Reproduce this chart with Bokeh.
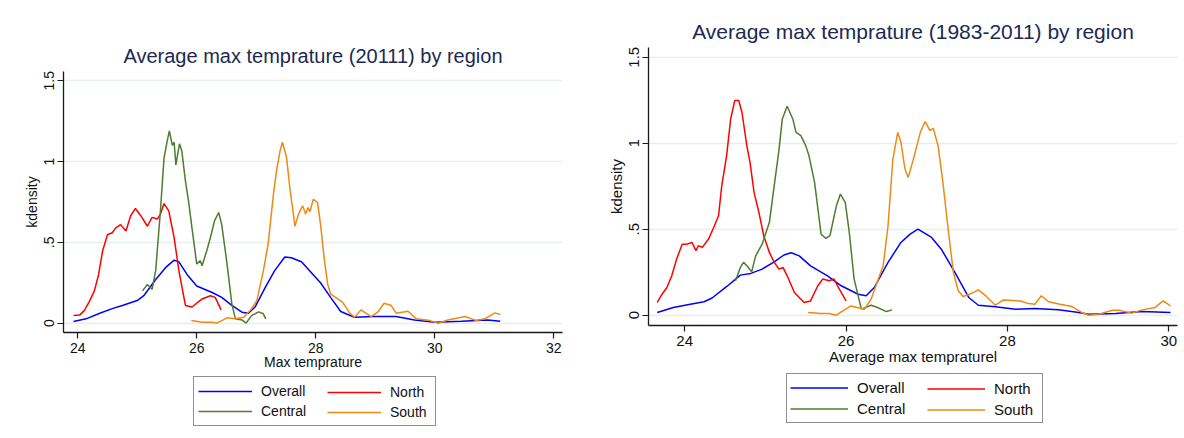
from bokeh.plotting import figure
from bokeh.models import Range1d, FixedTicker, CustomJSTickFormatter, Legend, LegendItem, Spacer
from bokeh.layouts import row, column
from bokeh.embed import file_html
from bokeh.resources import INLINE

# ---------------- data: left panel (2011) ----------------
left_title = "Average max temprature (20111) by region"
left_xlabel = "Max temprature"
left_xticks = [24, 26, 28, 30, 32]

l_overall_x = [23.93, 24.14, 24.36, 24.58, 24.75, 25.0, 25.11, 25.31, 25.48, 25.62, 25.70, 25.84, 26.0, 26.26,
               26.42, 26.59, 26.76, 26.87, 26.98, 27.15, 27.31, 27.48, 27.59, 27.76, 27.92, 28.08, 28.25, 28.42,
               28.65, 28.98, 29.35, 29.66, 30.0, 30.45, 30.89, 31.1]
l_overall_y = [0.01, 0.027, 0.06, 0.09, 0.11, 0.14, 0.17, 0.27, 0.345, 0.39, 0.38, 0.30, 0.23, 0.19,
               0.16, 0.11, 0.068, 0.062, 0.10, 0.22, 0.325, 0.41, 0.405, 0.38, 0.315, 0.25, 0.16, 0.072,
               0.037, 0.041, 0.041, 0.02, 0.006, 0.012, 0.02, 0.012]

l_north_x = [23.93, 24.03, 24.11, 24.19, 24.28, 24.35, 24.42, 24.50, 24.58, 24.64, 24.72, 24.81, 24.89, 24.97,
             25.06, 25.17, 25.25, 25.34, 25.39, 25.45, 25.53, 25.62, 25.70, 25.81, 25.92, 26.09, 26.23, 26.31, 26.41]
l_north_y = [0.047, 0.05, 0.078, 0.13, 0.20, 0.30, 0.45, 0.547, 0.56, 0.59, 0.61, 0.57, 0.665, 0.71,
             0.665, 0.60, 0.655, 0.645, 0.675, 0.74, 0.695, 0.53, 0.325, 0.11, 0.10, 0.15, 0.17, 0.16, 0.082]

l_central_x = [25.09, 25.17, 25.25, 25.31, 25.39, 25.45, 25.50, 25.54, 25.59, 25.62, 25.65, 25.71, 25.75, 25.81,
               25.87, 25.92, 26.0, 26.06, 26.09, 26.17, 26.23, 26.30, 26.37, 26.42, 26.51, 26.59, 26.65, 26.76,
               26.83, 26.92, 27.04, 27.12, 27.16]
l_central_y = [0.20, 0.24, 0.21, 0.325, 0.695, 1.02, 1.12, 1.19, 1.10, 1.12, 0.98, 1.11, 1.065, 0.88,
               0.735, 0.59, 0.366, 0.387, 0.355, 0.45, 0.53, 0.635, 0.685, 0.61, 0.366, 0.12, 0.027, 0.02,
               0.0, 0.047, 0.07, 0.058, 0.027]

l_south_x = [25.91, 26.09, 26.26, 26.34, 26.51, 26.65, 26.79, 26.92, 27.01, 27.12, 27.20, 27.29, 27.34, 27.40,
             27.44, 27.51, 27.57, 27.61, 27.65, 27.71, 27.78, 27.83, 27.87, 27.90, 27.96, 28.03, 28.08, 28.14,
             28.20, 28.25, 28.37, 28.45, 28.56, 28.65, 28.76, 28.93, 29.04, 29.15, 29.27, 29.35, 29.55, 29.69,
             29.92, 30.06, 30.22, 30.51, 30.70, 30.84, 31.01, 31.1]
l_south_y = [0.016, 0.006, 0.006, 0.0, 0.033, 0.027, 0.037, 0.088, 0.14, 0.325, 0.49, 0.80, 0.94, 1.066,
             1.12, 1.025, 0.82, 0.716, 0.60, 0.675, 0.726, 0.675, 0.716, 0.69, 0.767, 0.747, 0.613, 0.407,
             0.243, 0.18, 0.15, 0.13, 0.068, 0.037, 0.082, 0.041, 0.068, 0.123, 0.109, 0.062, 0.074, 0.027,
             0.016, 0.0, 0.02, 0.041, 0.016, 0.027, 0.064, 0.054]

# ---------------- data: right panel (1983-2011) ----------------
right_title = "Average max temprature (1983-2011) by region"
right_xlabel = "Average max tempraturel"
right_xticks = [24, 26, 28, 30]

r_overall_x = [23.66, 23.86, 24.07, 24.24, 24.34, 24.53, 24.69, 24.82, 24.96, 25.11, 25.23, 25.32, 25.42, 25.56,
               25.77, 25.94, 26.15, 26.25, 26.35, 26.52, 26.68, 26.79, 26.89, 27.06, 27.18, 27.35, 27.52, 27.64,
               27.85, 28.10, 28.34, 28.63, 28.84, 29.01, 29.34, 29.67, 30.02]
r_overall_y = [0.016, 0.045, 0.064, 0.078, 0.10, 0.17, 0.233, 0.243, 0.268, 0.31, 0.35, 0.363, 0.345, 0.287,
               0.229, 0.171, 0.122, 0.113, 0.161, 0.307, 0.423, 0.47, 0.50, 0.452, 0.384, 0.248, 0.103, 0.058,
               0.049, 0.035, 0.039, 0.031, 0.019, 0.006, 0.01, 0.021, 0.016]

r_north_x = [23.66, 23.72, 23.78, 23.84, 23.90, 23.97, 24.03, 24.09, 24.14, 24.17, 24.22, 24.30, 24.36, 24.42,
             24.46, 24.52, 24.57, 24.62, 24.67, 24.71, 24.77, 24.81, 24.86, 24.92, 24.98, 25.05, 25.11, 25.17,
             25.22, 25.27, 25.36, 25.48, 25.56, 25.65, 25.71, 25.79, 25.85, 25.94, 26.0]
r_north_y = [0.074, 0.122, 0.161, 0.229, 0.326, 0.413, 0.413, 0.423, 0.375, 0.404, 0.394, 0.446, 0.51, 0.578,
             0.753, 0.928, 1.14, 1.248, 1.248, 1.18, 0.986, 0.889, 0.714, 0.598, 0.462, 0.365, 0.307, 0.268,
             0.277, 0.229, 0.132, 0.074, 0.083, 0.171, 0.21, 0.20, 0.21, 0.132, 0.083]

r_central_x = [24.63, 24.69, 24.73, 24.78, 24.83, 24.88, 24.96, 25.05, 25.11, 25.17, 25.21, 25.27, 25.34, 25.38,
               25.44, 25.50, 25.54, 25.61, 25.69, 25.75, 25.80, 25.88, 25.93, 25.99, 26.04, 26.10, 26.19, 26.31,
               26.39, 26.50, 26.57]
r_central_y = [0.20, 0.278, 0.307, 0.283, 0.252, 0.345, 0.413, 0.54, 0.753, 0.966, 1.141, 1.215, 1.141, 1.063,
               1.044, 0.986, 0.928, 0.772, 0.472, 0.446, 0.462, 0.636, 0.704, 0.656, 0.481, 0.21, 0.035, 0.058,
               0.045, 0.021, 0.031]

r_south_x = [25.53, 25.69, 25.79, 25.88, 25.96, 26.06, 26.19, 26.23, 26.31, 26.40, 26.46, 26.52, 26.58, 26.64,
             26.68, 26.73, 26.77, 26.83, 26.92, 26.98, 27.04, 27.08, 27.14, 27.20, 27.27, 27.33, 27.39, 27.45,
             27.56, 27.64, 27.74, 27.85, 27.95, 28.16, 28.24, 28.34, 28.42, 28.51, 28.65, 28.80, 28.92, 29.01,
             29.13, 29.30, 29.38, 29.54, 29.67, 29.83, 29.93, 30.02]
r_south_y = [0.016, 0.01, 0.01, 0.0, 0.025, 0.054, 0.039, 0.035, 0.093, 0.21, 0.287, 0.52, 0.908, 1.063,
             1.005, 0.85, 0.80, 0.90, 1.063, 1.126, 1.073, 1.087, 0.986, 0.772, 0.481, 0.248, 0.142, 0.109,
             0.128, 0.147, 0.109, 0.058, 0.089, 0.083, 0.07, 0.064, 0.113, 0.078, 0.064, 0.05, 0.016, 0.0,
             0.006, 0.029, 0.029, 0.012, 0.031, 0.045, 0.083, 0.054]

y_ticks = [0, 0.5, 1, 1.5]
series_names = ["Overall", "North", "Central", "South"]
series_colors = ["#0000ff", "#ff0000", "#4e7c30", "#ee8a12"]

# legend-key stand-in lines (outside the legend panel's visible range, only their style is used)
key_x = [2, 3]
key_y = [2, 2]

FONT = "Liberation Sans"
TITLE_COLOR = "#1c2a52"
LINE_W = 1.5


def make_panel(width, height, xr, yr, borders, title, xlabel, xticks, series, fs, title_fs, xlab_standoff):
    p = figure(width=width, height=height, x_range=Range1d(*xr), y_range=Range1d(*yr),
               output_backend="svg", toolbar_location=None,
               min_border_left=borders[0], min_border_right=borders[1],
               min_border_top=borders[2], min_border_bottom=borders[3])
    p.background_fill_color = "white"
    p.border_fill_color = "white"
    p.outline_line_color = None

    p.title.text = title
    p.title.align = "center"
    p.title.text_font = FONT
    p.title.text_font_size = f"{title_fs}px"
    p.title.text_font_style = "normal"
    p.title.text_color = TITLE_COLOR

    ax = p.xaxis[0]
    ax.ticker = FixedTicker(ticks=xticks)
    ax.axis_label = xlabel
    ay = p.yaxis[0]
    ay.ticker = FixedTicker(ticks=y_ticks)
    ay.formatter = CustomJSTickFormatter(code="return tick.toString().replace(/^0\\./, '.');")
    ay.axis_label = "kdensity"
    ay.major_label_orientation = "vertical"
    for a in (ax, ay):
        a.axis_line_color = "#1a1a1a"
        a.axis_line_width = 1.3
        a.major_tick_line_color = "#1a1a1a"
        a.major_tick_line_width = 1.2
        a.major_tick_in = 0
        a.major_tick_out = 6
        a.minor_tick_line_color = None
        a.major_label_text_font = FONT
        a.major_label_text_font_size = f"{fs}px"
        a.major_label_text_color = "#111111"
        a.axis_label_text_font = FONT
        a.axis_label_text_font_size = f"{fs}px"
        a.axis_label_text_font_style = "normal"
        a.axis_label_text_color = "#111111"
    ay.major_label_standoff = 3
    ay.axis_label_standoff = 2
    ax.major_label_standoff = 4
    ax.axis_label_standoff = xlab_standoff

    p.xgrid.visible = False
    p.ygrid.ticker = FixedTicker(ticks=y_ticks)
    p.ygrid.grid_line_color = "#e6eef0"
    p.ygrid.grid_line_width = 1.5

    for color, (xs, ys) in zip(series_colors, series):
        p.line(xs, ys, line_color=color, line_width=LINE_W)
    return p


def make_legend_fig(width, height, fs, glyph_w, standoff, row_h, pad, label_w, loc_a, loc_b):
    lf = figure(width=width, height=height, x_range=Range1d(0, 1), y_range=Range1d(0, 1),
                x_axis_location=None, y_axis_location=None, output_backend="svg",
                toolbar_location=None, min_border=0)
    lf.outline_line_color = None
    lf.background_fill_color = "white"
    lf.border_fill_color = "white"
    lf.grid.visible = False
    rends = {}
    for name, color in zip(series_names, series_colors):
        rends[name] = lf.line(x=key_x, y=key_y, line_color=color, line_width=LINE_W)

    def mk(names, loc, boxed, lw):
        leg = Legend(items=[LegendItem(label=n, renderers=[rends[n]]) for n in names],
                     orientation="vertical", location=loc)
        leg.label_text_font = FONT
        leg.label_text_font_size = f"{fs}px"
        leg.label_text_color = "#111111"
        leg.glyph_width = glyph_w
        leg.glyph_height = row_h
        leg.label_height = row_h
        leg.label_standoff = standoff
        leg.label_width = lw
        leg.spacing = 0
        leg.padding = pad
        leg.margin = 0
        if boxed:
            leg.border_line_color = "#222222"
            leg.border_line_width = 1.3
            leg.background_fill_color = "white"
        else:
            leg.border_line_color = None
            leg.background_fill_alpha = 0
        lf.add_layout(leg, "center")

    mk(["Overall", "Central"], loc_a, True, label_w)
    mk(["North", "South"], loc_b, False, 50)
    return lf


p1 = make_panel(578, 342, (23.761, 32.147), (-0.0576, 1.5575), (63, 16, 37, 44),
                left_title, left_xlabel, left_xticks,
                [(l_overall_x, l_overall_y), (l_north_x, l_north_y),
                 (l_central_x, l_central_y), (l_south_x, l_south_y)], 14, 20, -2)
leg1 = make_legend_fig(578, 62, 14, 54, 9, 20, 4, 170, (130, 12), (264, 16))

p2 = make_panel(596, 372, (23.552, 30.107), (-0.0599, 1.5564), (60, 7, 47, 47),
                right_title, right_xlabel, right_xticks,
                [(r_overall_x, r_overall_y), (r_north_x, r_north_y),
                 (r_central_x, r_central_y), (r_south_x, r_south_y)], 15, 21, -1)
leg2 = make_legend_fig(596, 66, 15, 58, 9, 21, 3, 182, (138, 15), (279, 18))

layout = row(column(Spacer(height=34, width=578), p1, leg1),
             Spacer(width=10, height=10),
             column(p2, leg2))

open("out.html", "w").write(file_html(layout, INLINE))
